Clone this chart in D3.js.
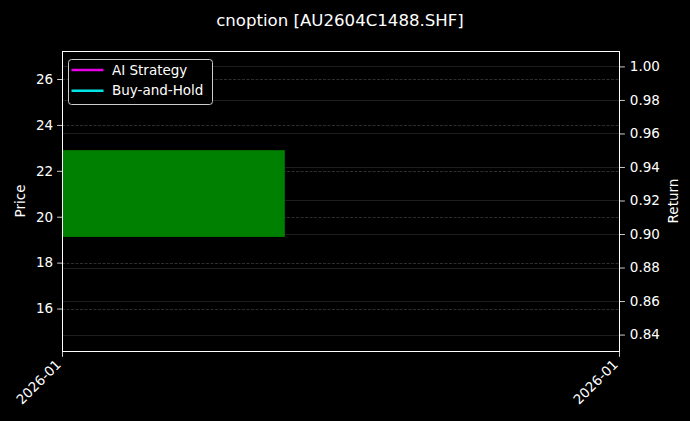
<!DOCTYPE html>
<html>
<head>
<meta charset="utf-8">
<script src="https://cdn.jsdelivr.net/npm/d3@7"></script>
<style>
  body { margin: 0; background: #000; }
  text { font-family: "DejaVu Sans", sans-serif; fill: #fff; }
</style>
</head>
<body>
<script>
// candle data (one bar), x in fraction of the period
var candleX = [0, 0.4];
var candleOpen = [19.12];
var candleClose = [22.9];

var priceTicks = [16, 18, 20, 22, 24, 26];
var returnTicks = [0.84, 0.86, 0.88, 0.90, 0.92, 0.94, 0.96, 0.98, 1.00];
var xTickLabels = ["2026-01", "2026-01"];
var seriesNames = ["AI Strategy", "Buy-and-Hold"];
var seriesColors = ["#e600e6", "#00e6e6"];

var width = 690,
    height = 421,
    margin = {top: 51, right: 71, bottom: 70, left: 62};

var x = d3.scaleLinear().domain([0, 1]).range([margin.left, width - margin.right]);
var yPrice = d3.scaleLinear().domain([14.15, 27.22]).range([height - margin.bottom, margin.top]);
var yRet = d3.scaleLinear().domain([0.8302, 1.0092]).range([height - margin.bottom, margin.top]);

var svg = d3.select("body").append("svg")
    .attr("width", width)
    .attr("height", height)
    .style("background", "#000");

// grids
svg.append("g")
    .selectAll("line")
    .data(returnTicks)
  .enter().append("line")
    .attr("x1", margin.left).attr("x2", width - margin.right)
    .attr("y1", function(d) { return Math.round(yRet(d)) + 0.5; })
    .attr("y2", function(d) { return Math.round(yRet(d)) + 0.5; })
    .attr("stroke", "#262626")
    .attr("stroke-width", 0.8);

svg.append("g")
    .selectAll("line")
    .data(priceTicks)
  .enter().append("line")
    .attr("x1", margin.left).attr("x2", width - margin.right)
    .attr("y1", function(d) { return Math.round(yPrice(d)) + 0.5; })
    .attr("y2", function(d) { return Math.round(yPrice(d)) + 0.5; })
    .attr("stroke", "#383838")
    .attr("stroke-width", 0.8)
    .attr("stroke-dasharray", "3,1.5");

// candle body
svg.append("g")
    .selectAll("rect")
    .data(candleOpen)
  .enter().append("rect")
    .attr("x", x(candleX[0]))
    .attr("width", x(candleX[1]) - x(candleX[0]))
    .attr("y", function(d, i) { return yPrice(Math.max(d, candleClose[i])); })
    .attr("height", function(d, i) { return Math.abs(yPrice(d) - yPrice(candleClose[i])); })
    .attr("fill", "#008000");

// axes
var left = svg.append("g")
    .attr("transform", "translate(" + margin.left + ",0)")
    .call(d3.axisLeft(yPrice).tickValues(priceTicks).tickSize(4.9).tickPadding(4).tickFormat(d3.format("d")));

var right = svg.append("g")
    .attr("transform", "translate(" + (width - margin.right + 1) + ",0)")
    .call(d3.axisRight(yRet).tickValues(returnTicks).tickSize(4.9).tickPadding(4.9).tickFormat(d3.format(".2f")));

var bottom = svg.append("g")
    .attr("transform", "translate(0," + (height - margin.bottom + 1) + ")")
    .call(d3.axisBottom(x).tickValues([0, 1]).tickSize(4.9).tickFormat(function(d, i) { return xTickLabels[i]; }));

bottom.selectAll("text")
    .attr("text-anchor", "end")
    .attr("x", 0).attr("y", 0)
    .attr("dy", "0.35em")
    .attr("transform", "translate(-4,10) rotate(-45)");

[left, right, bottom].forEach(function(a) {
  a.select(".domain").remove();
  a.selectAll("line").attr("stroke", "#fff").attr("stroke-width", 0.8);
  a.selectAll("text").style("font-size", "13.5px").attr("fill", "#fff");
});

// frame
svg.append("rect")
    .attr("x", margin.left + 0.5).attr("y", margin.top + 0.5)
    .attr("width", width - margin.left - margin.right)
    .attr("height", height - margin.top - margin.bottom)
    .attr("fill", "none")
    .attr("stroke", "#fff")
    .attr("stroke-width", 1);

// labels
svg.append("text")
    .attr("x", 340).attr("y", 25.5)
    .attr("text-anchor", "middle")
    .style("font-size", "16.6px")
    .text("cnoption [AU2604C1488.SHF]");

svg.append("text")
    .attr("transform", "translate(25," + (margin.top + height - margin.bottom) / 2 + ") rotate(-90)")
    .attr("text-anchor", "middle")
    .style("font-size", "13.5px")
    .text("Price");

svg.append("text")
    .attr("transform", "translate(678," + (margin.top + height - margin.bottom) / 2 + ") rotate(-90)")
    .attr("text-anchor", "middle")
    .style("font-size", "13.5px")
    .text("Return");

// legend
var legend = svg.append("g").attr("transform", "translate(68.5,59.5)");
legend.append("rect")
    .attr("width", 144).attr("height", 45)
    .attr("rx", 3)
    .attr("fill", "#000")
    .attr("stroke", "#ccc")
    .attr("stroke-width", 1);

var item = legend.selectAll(".item")
    .data(seriesNames)
  .enter().append("g")
    .attr("class", "item")
    .attr("transform", function(d, i) { return "translate(0," + (10.5 + i * 20.7) + ")"; });

item.append("line")
    .attr("x1", 3).attr("x2", 35)
    .attr("stroke", function(d, i) { return seriesColors[i]; })
    .attr("stroke-width", 2.4);

item.append("text")
    .attr("x", 43.5).attr("dy", "0.35em")
    .style("font-size", "13.5px")
    .text(function(d) { return d; });
</script>
</body>
</html>
